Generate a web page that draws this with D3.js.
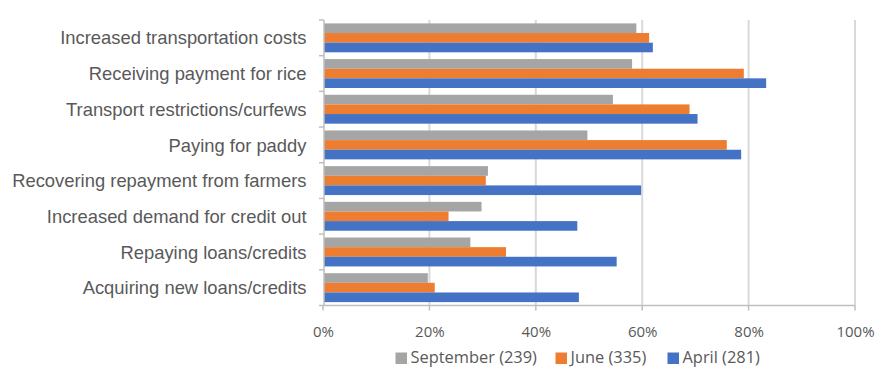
<!DOCTYPE html>
<html><head><meta charset="utf-8">
<script src="https://cdn.jsdelivr.net/npm/d3@7"></script>
<style>body{margin:0;background:#fff}svg{display:block}</style>
</head><body>
<svg id="c" width="877" height="367"></svg>
<script>
const categories = ["Increased transportation costs","Receiving payment for rice","Transport restrictions/curfews","Paying for paddy","Recovering repayment from farmers","Increased demand for credit out","Repaying loans/credits","Acquiring new loans/credits"];
const seriesNames = ["September (239)","June (335)","April (281)"];
const september = [0.589,0.581,0.545,0.497,0.310,0.298,0.277,0.197];
const june = [0.613,0.791,0.689,0.759,0.306,0.236,0.344,0.210];
const april = [0.620,0.833,0.704,0.786,0.598,0.478,0.552,0.481];
const colors = ["#A5A5A5","#ED7D31","#4472C4"];
const xTicks = [0,0.2,0.4,0.6,0.8,1.0];

(function(){
const series = [september, june, april];
const svg = d3.select("#c");
const L = 323, R = 855, T = 20, B = 305.5;
const x = d3.scaleLinear().domain([0,1]).range([L,R]);
const y = d3.scaleBand().domain(categories).range([T,B]).paddingInner(0.19).paddingOuter(0.095);
const yOuter = d3.scaleBand().domain(categories).range([T,B]);
const yInner = d3.scaleBand().domain(seriesNames).range([0,y.bandwidth()]);

svg.append("g").selectAll("line").data(xTicks.slice(1)).join("line")
  .attr("x1",d=>x(d)).attr("x2",d=>x(d)).attr("y1",T).attr("y2",B)
  .attr("stroke","#D9D9D9").attr("stroke-width",2);

series.forEach((vals,si)=>{
  svg.append("g").selectAll("rect").data(vals).join("rect")
    .attr("x",x(0)+1).attr("y",(d,i)=>y(categories[i])+yInner(seriesNames[si]))
    .attr("width",d=>x(d)-x(0)-1).attr("height",yInner.bandwidth())
    .attr("fill",colors[si]);
});

const axisColor = "#BFBFBF";
svg.append("line").attr("x1",L+1).attr("x2",L+1).attr("y1",T).attr("y2",B).attr("stroke",axisColor).attr("stroke-width",1.5);
const bounds = categories.map(c=>yOuter(c)).concat([B]);
svg.append("g").selectAll("line").data(bounds).join("line")
  .attr("x1",L-4).attr("x2",L+1).attr("y1",d=>d).attr("y2",d=>d)
  .attr("stroke",axisColor).attr("stroke-width",1.5);

svg.append("line").attr("x1",L).attr("x2",R).attr("y1",B).attr("y2",B).attr("stroke",axisColor).attr("stroke-width",1.5);
svg.append("g").selectAll("line").data(xTicks).join("line")
  .attr("x1",d=>x(d)).attr("x2",d=>x(d)).attr("y1",B).attr("y2",B+5)
  .attr("stroke",axisColor).attr("stroke-width",1.5);

svg.append("g").selectAll("text").data(xTicks).join("text")
  .attr("x",d=>x(d)+0.5).attr("y",336.5).attr("text-anchor","middle")
  .attr("font-family","'Open Sans', sans-serif").attr("font-size",15).attr("fill","#595959")
  .text(d=>d3.format(".0%")(d));

svg.append("g").selectAll("text").data(categories).join("text")
  .attr("x",L-16.5).attr("y",c=>yOuter(c)+yOuter.bandwidth()/2).attr("dy","0.36em")
  .attr("text-anchor","end").attr("font-family","'Liberation Sans', Arial, sans-serif").attr("font-size",18.4).attr("fill","#595959")
  .text(d=>d);

const legendX = [395.5,555.5,667.5];
const lg = svg.append("g");
seriesNames.forEach((n,i)=>{
  lg.append("rect").attr("x",legendX[i]).attr("y",352.5).attr("width",11.5).attr("height",11.5).attr("fill",colors[i]);
  lg.append("text").attr("x",legendX[i]+15).attr("y",363).attr("font-family","'Open Sans', sans-serif")
    .attr("font-size",16.4).attr("fill","#595959").text(n);
});
})();
</script>
</body></html>
